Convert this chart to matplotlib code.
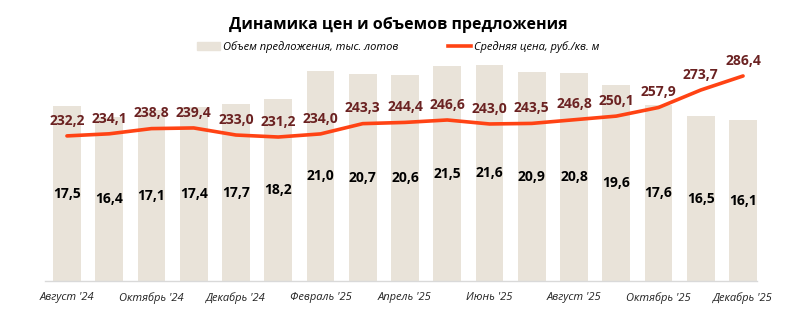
import matplotlib.pyplot as plt
import matplotlib.patches as mpatches
import matplotlib.lines as mlines
import numpy as np

plt.rcParams['font.family'] = ['Open Sans', 'DejaVu Sans']

months = ["Август '24", "Сентябрь '24", "Октябрь '24", "Ноябрь '24", "Декабрь '24",
          "Январь '25", "Февраль '25", "Март '25", "Апрель '25", "Май '25", "Июнь '25",
          "Июль '25", "Август '25", "Сентябрь '25", "Октябрь '25", "Ноябрь '25", "Декабрь '25"]
volume = [17.5, 16.4, 17.1, 17.4, 17.7, 18.2, 21.0, 20.7, 20.6, 21.5, 21.6,
          20.9, 20.8, 19.6, 17.6, 16.5, 16.1]
price = [232.2, 234.1, 238.8, 239.4, 233.0, 231.2, 234.0, 243.3, 244.4, 246.6,
         243.0, 243.5, 246.8, 250.1, 257.9, 273.7, 286.4]

BAR_COLOR = '#E9E3D9'
LINE_COLOR = '#FF4314'
PRICE_TEXT = '#6B2222'

fig = plt.figure(figsize=(7.96, 3.23), dpi=100)
ax = fig.add_axes([0.0565, 0.130, 0.8945, 0.743])
x = np.arange(len(months))

ax.bar(x, volume, width=0.66, color=BAR_COLOR, zorder=1)
for xi, v in zip(x, volume):
    ax.text(xi, v / 2, f'{v:.1f}'.replace('.', ','), ha='center', va='center',
            fontsize=10, fontweight='bold', color='black')

ax.set_xlim(-0.52, 16.33)
ax.set_ylim(0, 24)
ax.set_xticks(x[::2])
ax.set_xticklabels(months[::2], fontsize=8, style='italic', color='#222222')
ax.tick_params(axis='x', length=0, pad=8)
ax.set_yticks([])
for s in ['top', 'right', 'left']:
    ax.spines[s].set_visible(False)
ax.spines['bottom'].set_color('#D9D9D9')
ax.spines['bottom'].set_linewidth(1.0)

# price line on its own scale, labels just above each point
ax2 = ax.twinx()
ax2.plot(x, price, color=LINE_COLOR, lw=2.6, solid_joinstyle='round',
         solid_capstyle='round', zorder=3)
for xi, p in zip(x, price):
    ax2.annotate(f'{p:.1f}'.replace('.', ','), (xi, p), xytext=(0, 11),
                 textcoords='offset points', ha='center', va='center',
                 fontsize=10, fontweight='bold', color=PRICE_TEXT)
ax2.set_ylim(101, 318)
ax2.set_yticks([])
for s in ax2.spines.values():
    s.set_visible(False)

fig.text(0.5, 1 - 25 / 323, 'Динамика цен и объемов предложения', ha='center',
         va='center', fontsize=11.5, fontweight='bold', color='black')

handles = [mpatches.Patch(color=BAR_COLOR),
           mlines.Line2D([], [], color=LINE_COLOR, lw=2.6)]
labels = ['Объем предложения, тыс. лотов', 'Средняя цена, руб./кв. м']
fig.legend(handles, labels, ncol=2, loc='center', bbox_to_anchor=(0.5, 1 - 47 / 323),
           frameon=False, prop={'style': 'italic', 'size': 8},
           handlelength=2.1, handleheight=0.6, handletextpad=0.2, columnspacing=4.5)

fig.savefig('out.png', dpi=100)
